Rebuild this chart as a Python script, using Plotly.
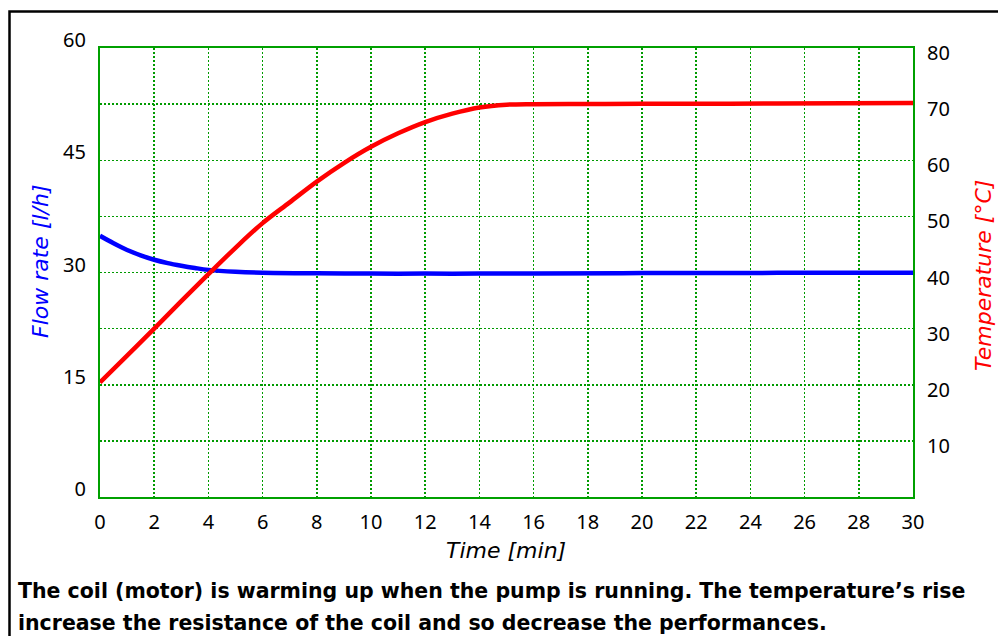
import plotly.graph_objects as go

# ---- data ----
time_flow = [0, 0.5, 1, 1.5, 2, 2.5, 3, 3.5, 4, 5, 6, 8, 10, 12, 14, 16, 20, 25, 30]
flow_rate = [34.9, 33.9, 33.0, 32.3, 31.7, 31.25, 30.9, 30.6, 30.35, 30.1, 29.97, 29.9,
             29.85, 29.85, 29.85, 29.88, 29.92, 29.95, 29.97]

time_temp = [0, 1, 2, 3, 4, 5, 6, 7, 8, 9, 10, 11, 12, 13, 14, 15, 16, 18, 20, 25, 30]
temperature = [20.4, 25.2, 30.0, 34.9, 39.7, 44.4, 48.8, 52.5, 56.2, 59.5, 62.4, 64.8,
               66.8, 68.3, 69.4, 69.9, 70.0, 70.02, 70.05, 70.1, 70.2]

x_ticks = list(range(0, 31, 2))
flow_ticks = [0, 15, 30, 45, 60]
temp_ticks = [10, 20, 30, 40, 50, 60, 70, 80]

caption_1 = "The coil (motor) is warming up when the pump is running. The temperature\u2019s rise"
caption_2 = "increase the resistance of the coil and so decrease the performances."

# ---- layout helpers ----
W, H = 998, 636
L, R, T, B = 100, 913, 48, 497


def px(x):
    return (x - L) / (R - L)


def py(y):
    return (B - y) / (B - T)


GREEN = "#00a000"
GRID = "#009a00"
tick_font = dict(family="Noto Sans", size=20, color="black")

fig = go.Figure()
fig.add_trace(go.Scatter(x=time_flow, y=flow_rate, mode="lines", yaxis="y",
                         line=dict(color="#0000ff", width=4.5, shape="spline"),
                         showlegend=False, hoverinfo="skip"))
fig.add_trace(go.Scatter(x=time_temp, y=temperature, mode="lines", yaxis="y2",
                         line=dict(color="#ff0000", width=4.5, shape="spline"),
                         showlegend=False, hoverinfo="skip"))

fig.update_layout(
    width=W, height=H, autosize=False,
    margin=dict(l=L, r=W - R, t=T, b=H - B, pad=0),
    paper_bgcolor="white", plot_bgcolor="white",
    font=dict(family="Noto Sans", color="black"),
    xaxis=dict(range=[0, 30], tickvals=x_ticks, ticktext=[str(v) for v in x_ticks],
               showgrid=True, gridcolor=GRID, gridwidth=1.5, griddash="2px,2px",
               showline=True, linecolor=GREEN, linewidth=2, mirror=True,
               ticks="", tickfont=tick_font, ticklabelstandoff=6, zeroline=False,
               fixedrange=True),
    yaxis=dict(range=[0, 60], tickvals=flow_ticks, ticktext=[str(v) for v in flow_ticks],
               showgrid=False, showline=True, linecolor=GREEN, linewidth=2, mirror=True,
               ticks="", tickfont=tick_font, ticklabelstandoff=8, ticklabelshift=-8,
               zeroline=False, fixedrange=True),
    yaxis2=dict(range=[0, 80], tickvals=temp_ticks, ticktext=[str(v) for v in temp_ticks],
                overlaying="y", side="right",
                showgrid=True, gridcolor=GRID, gridwidth=1.5, griddash="2px,2px",
                showline=False, ticks="", tickfont=tick_font, ticklabelstandoff=13,
                ticklabelshift=5, zeroline=False, fixedrange=True),
)

title_font = dict(family="DejaVu Sans", size=22, style="italic")
fig.add_annotation(text="Flow rate [l/h]", x=px(40), y=py(261), xref="paper", yref="paper",
                   textangle=-90, showarrow=False, xanchor="center", yanchor="middle",
                   font=dict(**title_font, color="#0000ff"))
fig.add_annotation(text="Temperature [\u00b0C]", x=px(983), y=py(276), xref="paper", yref="paper",
                   textangle=-90, showarrow=False, xanchor="center", yanchor="middle",
                   font=dict(**title_font, color="#ff0000"))
fig.add_annotation(text="Time [min]", x=px(506), y=py(550), xref="paper", yref="paper",
                   showarrow=False, xanchor="center", yanchor="middle",
                   font=dict(**title_font, color="black"))

cap_font = dict(family="DejaVu Sans", size=20.5, weight="bold", color="black")
fig.add_annotation(text=caption_1, x=px(16), y=py(591), xref="paper", yref="paper",
                   showarrow=False, xanchor="left", yanchor="middle", font=cap_font)
fig.add_annotation(text=caption_2, x=px(16), y=py(623), xref="paper", yref="paper",
                   showarrow=False, xanchor="left", yanchor="middle", font=cap_font)

# outer black frame (right and bottom edges fall outside the picture)
fig.add_shape(type="rect", xref="paper", yref="paper",
              x0=px(9.5), y0=py(660), x1=px(1020), y1=py(11.5),
              line=dict(color="black", width=2.5), fillcolor="rgba(0,0,0,0)", layer="above")

fig.write_html("out.html", config={"displayModeBar": False, "staticPlot": True},
               post_script="document.body.style.margin='0';document.body.style.overflow='hidden';")
